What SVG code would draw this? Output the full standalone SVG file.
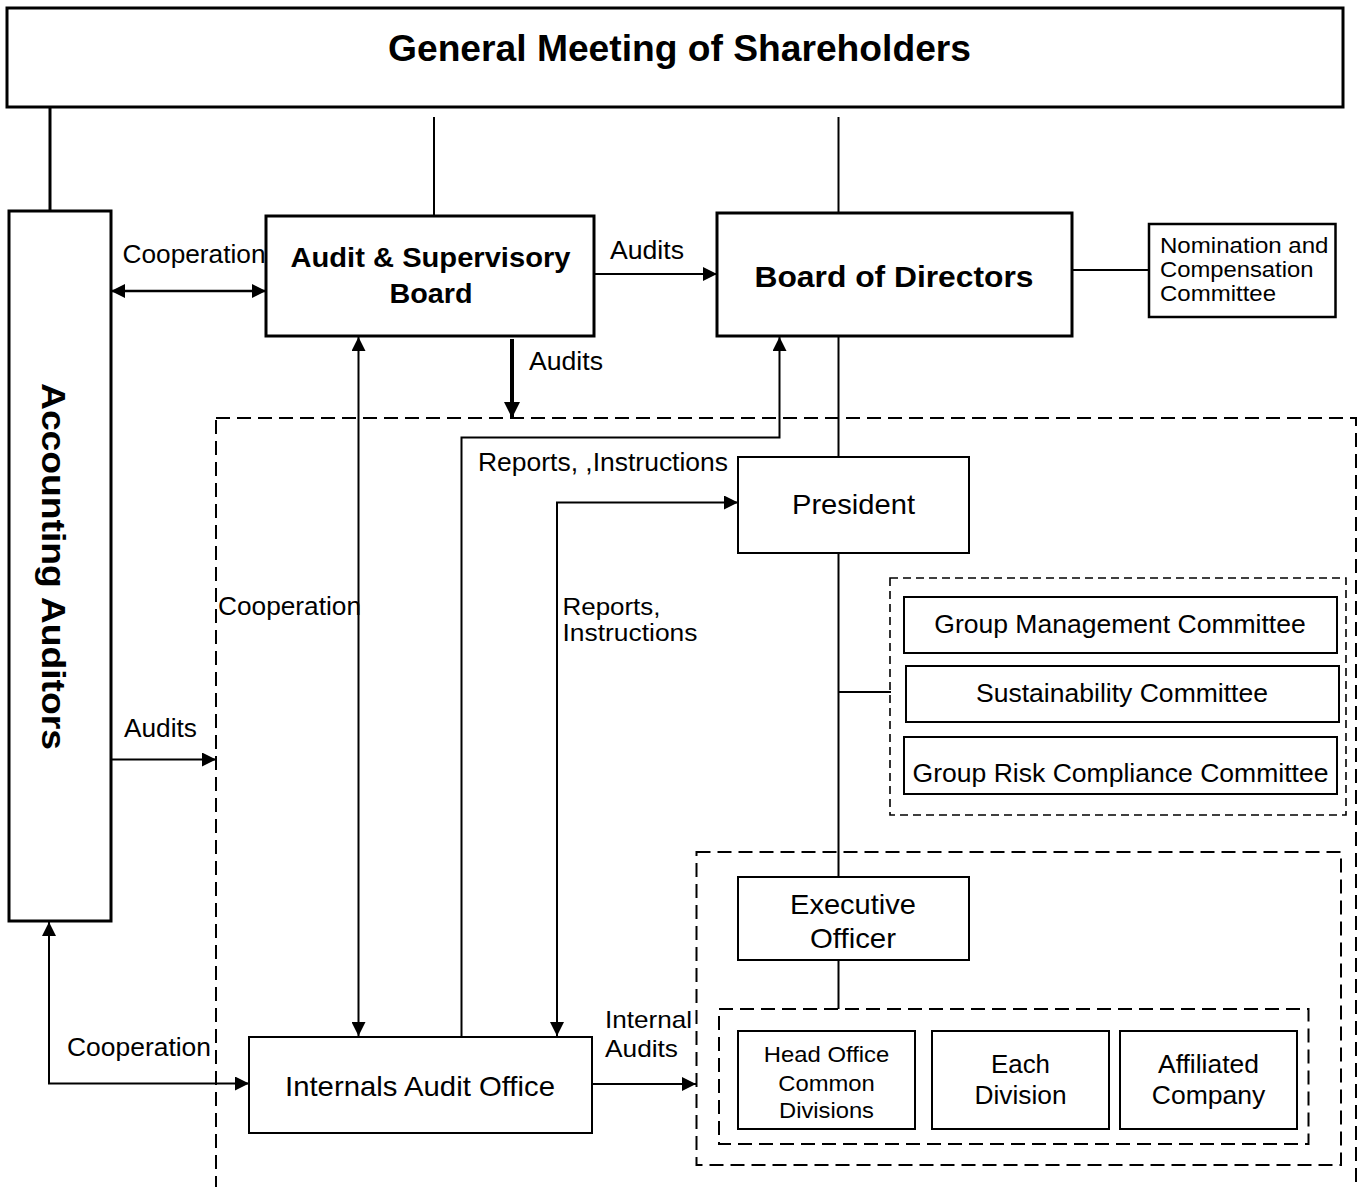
<svg xmlns="http://www.w3.org/2000/svg" width="1362" height="1187" viewBox="0 0 1362 1187">
<style>
text{font-family:"Liberation Sans",Arial,sans-serif;fill:#000}
.b{font-weight:bold}
.lbl{font-size:26px}
.box{fill:#fff;stroke:#000;stroke-width:2}
.bx3{fill:#fff;stroke:#000;stroke-width:3}
.dash{fill:none;stroke:#000;stroke-width:2;stroke-dasharray:14 7}
.dash2{fill:none;stroke:#000;stroke-width:1.6;stroke-dasharray:8 5}
.c{fill:none;stroke:#000;stroke-width:2}
.m{text-anchor:middle}
</style>
<defs>
<marker id="ah" viewBox="0 0 14 14" refX="14" refY="7" markerWidth="14" markerHeight="14" markerUnits="userSpaceOnUse" orient="auto-start-reverse">
<path d="M0,0 L14,7 L0,14 z" fill="#000"/>
</marker>
<marker id="ahb" viewBox="0 0 16 16" refX="16" refY="8" markerWidth="16" markerHeight="16" markerUnits="userSpaceOnUse" orient="auto">
<path d="M0,0 L16,8 L0,16 z" fill="#000"/>
</marker>
</defs>
<rect width="1362" height="1187" fill="#fff"/>

<g id="areas">
<rect class="dash" x="216" y="418" width="1140" height="800"/>
<rect class="dash2" x="890" y="578" width="456" height="237"/>
<rect class="dash" x="696.5" y="852" width="644.5" height="313"/>
<rect class="dash" x="719" y="1009" width="589.5" height="135"/>
</g>

<g id="connectors">
<line class="c" x1="50" y1="107" x2="50" y2="211" style="stroke-width:3"/>
<line class="c" x1="434" y1="117" x2="434" y2="216"/>
<line class="c" x1="838.5" y1="117" x2="838.5" y2="213"/>
<line class="c" x1="111" y1="291" x2="266" y2="291" style="stroke-width:2.5" marker-start="url(#ah)" marker-end="url(#ah)"/>
<line class="c" x1="594" y1="274" x2="717" y2="274" marker-end="url(#ah)"/>
<line class="c" x1="1072" y1="270" x2="1149" y2="270"/>
<line class="c" x1="512" y1="339" x2="512" y2="418" style="stroke-width:4" marker-end="url(#ahb)"/>
<line class="c" x1="838.5" y1="336" x2="838.5" y2="457"/>
<path class="c" d="M461.5,1037 V437.5 H779.5 V337" marker-end="url(#ah)"/>
<path class="c" d="M557,1036 V502.5 H738" marker-start="url(#ah)" marker-end="url(#ah)"/>
<line class="c" x1="358.5" y1="337" x2="358.5" y2="1036" marker-start="url(#ah)" marker-end="url(#ah)"/>
<line class="c" x1="111" y1="759.5" x2="216" y2="759.5" marker-end="url(#ah)"/>
<path class="c" d="M49,922 V1083.5 H249" marker-start="url(#ah)" marker-end="url(#ah)"/>
<line class="c" x1="592" y1="1084" x2="696" y2="1084" marker-end="url(#ah)"/>
<line class="c" x1="838.5" y1="553" x2="838.5" y2="877"/>
<line class="c" x1="838.5" y1="692" x2="891" y2="692"/>
<line class="c" x1="838.5" y1="960" x2="838.5" y2="1009"/>
</g>

<g id="labels" class="lbl">
<text x="122.5" y="263" textLength="143" lengthAdjust="spacingAndGlyphs">Cooperation</text>
<text x="610" y="259" textLength="74" lengthAdjust="spacingAndGlyphs">Audits</text>
<text x="529" y="370" textLength="74" lengthAdjust="spacingAndGlyphs">Audits</text>
<text x="478" y="471" textLength="250" lengthAdjust="spacingAndGlyphs">Reports, ,Instructions</text>
<text x="218" y="615" textLength="143" lengthAdjust="spacingAndGlyphs">Cooperation</text>
<text x="562.5" y="615" font-size="23" textLength="98" lengthAdjust="spacingAndGlyphs">Reports,</text>
<text x="562.5" y="641" font-size="23" textLength="135" lengthAdjust="spacingAndGlyphs">Instructions</text>
<text x="124" y="737" textLength="73" lengthAdjust="spacingAndGlyphs">Audits</text>
<text x="67" y="1056" textLength="144" lengthAdjust="spacingAndGlyphs">Cooperation</text>
<text x="605" y="1028" font-size="24" textLength="87" lengthAdjust="spacingAndGlyphs">Internal</text>
<text x="605" y="1057" font-size="24" textLength="73" lengthAdjust="spacingAndGlyphs">Audits</text>
</g>

<g id="gms">
<rect class="bx3" x="7" y="8" width="1336" height="99"/>
<text class="b m" x="679.5" y="61" font-size="36" textLength="583" lengthAdjust="spacingAndGlyphs">General Meeting of Shareholders</text>
</g>

<g id="accounting-auditors">
<rect class="bx3" x="9" y="211" width="102" height="710"/>
<text class="b" transform="translate(42,383) rotate(90)" font-size="33" textLength="367" lengthAdjust="spacingAndGlyphs">Accounting Auditors</text>
</g>

<g id="audit-supervisory-board">
<rect class="bx3" x="266" y="216" width="328" height="120"/>
<text class="b m" x="430.5" y="267" font-size="28" textLength="280" lengthAdjust="spacingAndGlyphs">Audit &amp; Supervisory</text>
<text class="b m" x="431" y="303" font-size="28" textLength="83" lengthAdjust="spacingAndGlyphs">Board</text>
</g>

<g id="board-of-directors">
<rect class="bx3" x="717" y="213" width="355" height="123"/>
<text class="b m" x="894" y="287" font-size="30" textLength="279" lengthAdjust="spacingAndGlyphs">Board of Directors</text>
</g>

<g id="nomination-committee">
<rect class="box" x="1149" y="224" width="186.5" height="93" style="stroke-width:2.5"/>
<text x="1160" y="253" font-size="22" textLength="168.5" lengthAdjust="spacingAndGlyphs">Nomination and</text>
<text x="1160" y="277" font-size="22" textLength="153.5" lengthAdjust="spacingAndGlyphs">Compensation</text>
<text x="1160" y="301" font-size="22" textLength="116" lengthAdjust="spacingAndGlyphs">Committee</text>
</g>

<g id="president">
<rect class="box" x="738" y="457" width="231" height="96"/>
<text class="m" x="853.5" y="514" font-size="28" textLength="123" lengthAdjust="spacingAndGlyphs">President</text>
</g>

<g id="group-management-committee">
<rect class="box" x="904" y="597" width="433" height="56"/>
<text class="m" x="1120" y="633" font-size="26" textLength="371.5" lengthAdjust="spacingAndGlyphs">Group Management Committee</text>
</g>

<g id="sustainability-committee">
<rect class="box" x="906" y="666" width="433" height="56"/>
<text class="m" x="1122" y="702" font-size="26" textLength="292" lengthAdjust="spacingAndGlyphs">Sustainability Committee</text>
</g>

<g id="group-risk-compliance-committee">
<rect class="box" x="904" y="737" width="433" height="57"/>
<text class="m" x="1120.5" y="782" font-size="26" textLength="416" lengthAdjust="spacingAndGlyphs">Group Risk Compliance Committee</text>
</g>

<g id="executive-officer">
<rect class="box" x="738" y="877" width="231" height="83"/>
<text class="m" x="853" y="914" font-size="28" textLength="126" lengthAdjust="spacingAndGlyphs">Executive</text>
<text class="m" x="853" y="948" font-size="28" textLength="86" lengthAdjust="spacingAndGlyphs">Officer</text>
</g>

<g id="internals-audit-office">
<rect class="box" x="249" y="1037" width="343" height="96"/>
<text class="m" x="420" y="1096" font-size="28" textLength="270" lengthAdjust="spacingAndGlyphs">Internals Audit Office</text>
</g>

<g id="head-office">
<rect class="box" x="738" y="1031" width="177" height="98"/>
<text class="m" x="826.5" y="1062" font-size="22" textLength="125.5" lengthAdjust="spacingAndGlyphs">Head Office</text>
<text class="m" x="826.5" y="1091" font-size="22" textLength="96.5" lengthAdjust="spacingAndGlyphs">Common</text>
<text class="m" x="826.5" y="1118" font-size="22" textLength="95" lengthAdjust="spacingAndGlyphs">Divisions</text>
</g>

<g id="each-division">
<rect class="box" x="932" y="1031" width="177" height="98"/>
<text class="m" x="1020.5" y="1073" font-size="26" textLength="59" lengthAdjust="spacingAndGlyphs">Each</text>
<text class="m" x="1020.5" y="1104" font-size="26" textLength="92" lengthAdjust="spacingAndGlyphs">Division</text>
</g>

<g id="affiliated-company">
<rect class="box" x="1120" y="1031" width="177" height="98"/>
<text class="m" x="1208.5" y="1073" font-size="26" textLength="101" lengthAdjust="spacingAndGlyphs">Affiliated</text>
<text class="m" x="1208.5" y="1104" font-size="26" textLength="113.5" lengthAdjust="spacingAndGlyphs">Company</text>
</g>
</svg>
